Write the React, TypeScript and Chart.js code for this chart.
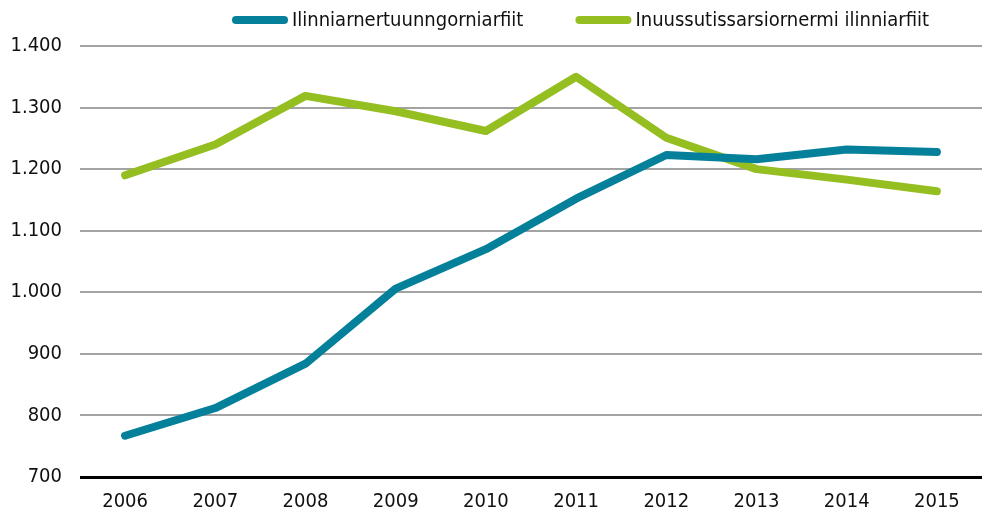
import React, { useEffect, useRef } from "react";
import { Chart, registerables } from "chart.js";

Chart.register(...registerables);

const years = ["2006", "2007", "2008", "2009", "2010", "2011", "2012", "2013", "2014", "2015"];
const seriesNames = ["Ilinniarnertuunngorniarfiit", "Inuussutissarsiornermi ilinniarfiit"];
const upperSecondary = [767, 812, 884, 1006, 1070, 1152, 1223, 1216, 1232, 1228];
const vocational = [1190, 1240, 1319, 1294, 1262, 1350, 1251, 1200, 1183, 1164];
const yMin = 700;
const yMax = 1400;
const yStep = 100;

const TEAL = "#05809a";
const GREEN = "#95be21";
const FONT = "'Liberation Sans Narrow', 'DejaVu Sans Condensed', 'Arial Narrow', sans-serif";

const fmt = (v: number) => {
  const s = Math.round(v).toString();
  return s.length > 3 ? s.slice(0, s.length - 3) + "." + s.slice(s.length - 3) : s;
};

const legendPlugin = {
  id: "customLegend",
  afterDraw(chart: any) {
    const ctx = chart.ctx;
    const ds = chart.data.datasets;
    ctx.save();
    ctx.font = `20px ${FONT}`;
    ctx.textBaseline = "middle";
    ctx.textAlign = "left";
    const lineW = 56;
    const gap = 4;
    const itemGap = 52;
    const cy = 20;
    let x = 232;
    ds.forEach((d: any) => {
      ctx.strokeStyle = d.borderColor;
      ctx.lineWidth = 8;
      ctx.lineCap = "round";
      ctx.beginPath();
      ctx.moveTo(x + 4, cy);
      ctx.lineTo(x + lineW - 4, cy);
      ctx.stroke();
      ctx.fillStyle = "#111";
      ctx.fillText(d.label, x + lineW + gap, cy + 1);
      x += lineW + gap + ctx.measureText(d.label).width + itemGap;
    });
    ctx.restore();
  },
};

export default function App() {
  const ref = useRef<HTMLCanvasElement | null>(null);
  useEffect(() => {
    if (!ref.current) return;
    const chart = new Chart(ref.current, {
      type: "line",
      data: {
        labels: years,
        datasets: [
          {
            label: seriesNames[0],
            data: upperSecondary,
            borderColor: TEAL,
            backgroundColor: TEAL,
            borderWidth: 8,
            pointRadius: 0,
            borderCapStyle: "round",
            borderJoinStyle: "round",
            tension: 0,
          },
          {
            label: seriesNames[1],
            data: vocational,
            borderColor: GREEN,
            backgroundColor: GREEN,
            borderWidth: 8,
            pointRadius: 0,
            borderCapStyle: "round",
            borderJoinStyle: "round",
            tension: 0,
          },
        ],
      },
      options: {
        animation: false,
        responsive: false,
        layout: { padding: { top: 46, right: 7, left: 0, bottom: 0 } },
        plugins: { legend: { display: false }, tooltip: { enabled: false } },
        scales: {
          x: {
            offset: true,
            grid: { display: false, drawTicks: false },
            border: { display: false },
            ticks: { color: "#111", font: { family: FONT, size: 20 }, padding: 13 },
            afterFit: (s: any) => {
              s.height = 39;
            },
          },
          y: {
            min: yMin,
            max: yMax,
            ticks: {
              stepSize: yStep,
              color: "#111",
              font: { family: FONT, size: 20 },
              padding: 18,
              callback: (v: any) => fmt(Number(v)),
            },
            grid: {
              drawTicks: false,
              color: (c: any) => (c.tick && c.tick.value === yMin ? "#000" : "#a3a3a3"),
              lineWidth: (c: any) => (c.tick && c.tick.value === yMin ? 3 : 2),
            },
            border: { display: false },
            afterFit: (s: any) => {
              s.width = 80;
            },
          },
        },
      },
      plugins: [legendPlugin],
    } as any);
    return () => chart.destroy();
  }, []);
  return (
    <div style={{ position: "fixed", left: 0, top: 0, width: 989, height: 516, background: "#fff" }}>
      <canvas ref={ref} width={989} height={516} style={{ display: "block" }} />
    </div>
  );
}
